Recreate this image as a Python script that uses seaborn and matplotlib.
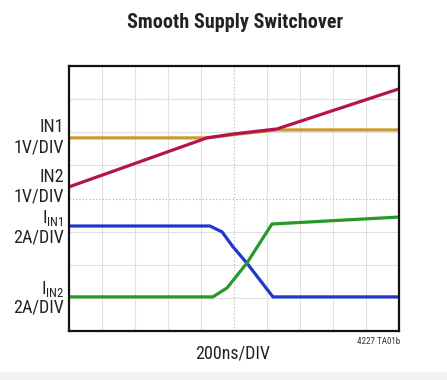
import matplotlib
matplotlib.use('Agg')

import matplotlib.pyplot as plt
import seaborn as sns
import numpy as np
import pandas as pd
from matplotlib.patches import Rectangle

# scope traces, in divisions (x: 0-10, y: 0-8 from the bottom)
in1_x = [0, 4.18, 5.18, 6.30, 10]
in1_y = [5.83, 5.83, 5.95, 6.07, 6.07]

in2_x = [0, 4.18, 5.00, 6.30, 10]
in2_y = [4.35, 5.83, 5.95, 6.10, 7.31]

iin1_x = [0, 4.27, 4.64, 4.97, 5.39, 6.18, 10]
iin1_y = [3.17, 3.17, 2.99, 2.54, 2.05, 1.03, 1.03]

iin2_x = [0, 4.36, 4.79, 5.39, 6.15, 10]
iin2_y = [1.03, 1.03, 1.30, 2.05, 3.23, 3.44]

trace_colors = {'IN1': '#c99a2c', 'IN2': '#b5134f', 'IIN1': '#2236cc', 'IIN2': '#27992a'}

sns.set_theme(style='white')
plt.rcParams['font.family'] = ['Roboto Condensed', 'Liberation Sans Narrow', 'Liberation Sans', 'DejaVu Sans']

W, H = 447, 380
fig = plt.figure(figsize=(W / 100, H / 100), dpi=100)
fig.patch.set_facecolor('white')

ax = fig.add_axes([69 / W, 1 - 331 / H, 330 / W, 265 / H])

# graticule
for gx in range(1, 10):
    if gx == 5:
        ax.axvline(gx, color='#b0b0b0', lw=0.8, ls=(0, (1, 2)), zorder=0)
    else:
        ax.axvline(gx, color='#e0e0e0', lw=0.8, zorder=0)
for gy in range(1, 8):
    if gy == 4:
        ax.axhline(gy, color='#b0b0b0', lw=0.8, ls=(0, (1, 2)), zorder=0)
    else:
        ax.axhline(gy, color='#e0e0e0', lw=0.8, zorder=0)

traces = [
    ('IN1', in1_x, in1_y),
    ('IIN1', iin1_x, iin1_y),
    ('IIN2', iin2_x, iin2_y),
    ('IN2', in2_x, in2_y),
]
for name, xs, ys in traces:
    df = pd.DataFrame({'t': xs, 'v': ys})
    sns.lineplot(data=df, x='t', y='v', ax=ax, color=trace_colors[name],
                 lw=2.3, sort=False, estimator=None, solid_capstyle='butt')

ax.set_xlim(0, 10)
ax.set_ylim(0, 8)
ax.set_xticks([])
ax.set_yticks([])
ax.set_xlabel('')
ax.set_ylabel('')
for sp in ax.spines.values():
    sp.set_visible(True)
    sp.set_color('#111111')
    sp.set_linewidth(1.6)


def ftext(px, py, s, **kw):
    fig.text(px / W, 1 - py / H, s, **kw)


ftext(235, 23, 'Smooth Supply Switchover', ha='center', va='center',
      fontsize=14.5, fontweight='bold', color='#222222')

lab = dict(ha='right', va='center', fontsize=13, color='#222222')
ftext(64, 127, 'IN1', **lab)
ftext(64, 147, '1V/DIV', **lab)
ftext(64, 177, 'IN2', **lab)
ftext(64, 196, '1V/DIV', **lab)
ftext(64, 218, r'I$_\mathregular{IN1}$', **lab)
ftext(64, 238, '2A/DIV', **lab)
ftext(64, 289, r'I$_\mathregular{IN2}$', **lab)
ftext(64, 307, '2A/DIV', **lab)

ftext(233, 353, '200ns/DIV', ha='center', va='center', fontsize=13, color='#222222')
ftext(400, 341, '4227 TA01b', ha='right', va='center', fontsize=6.5, color='#333333')

fig.patches.append(Rectangle((0, 0), 1, 8 / H, transform=fig.transFigure,
                             facecolor='#f1f1f1', edgecolor='none'))

plt.savefig('out.png', dpi=100)
plt.close()
